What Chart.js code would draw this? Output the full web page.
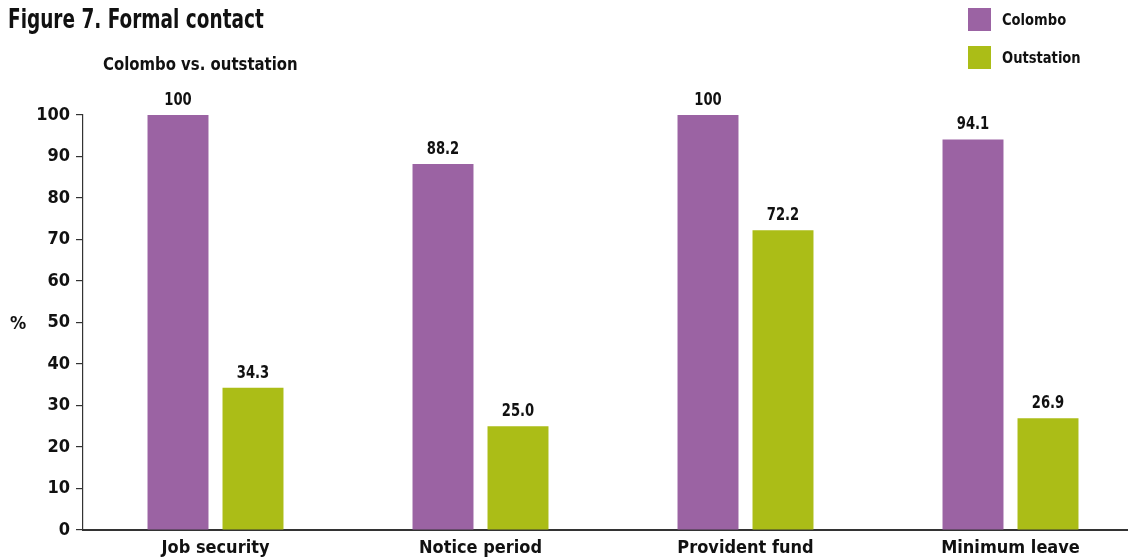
<!DOCTYPE html>
<html lang="en">

<head>
  <meta charset="UTF-8">
  <title>Figure 7. Formal contact</title>
  <script src="https://cdn.jsdelivr.net/npm/chart.js"></script>
  <style>
    html, body { margin: 0; padding: 0; overflow: hidden; background: #fff; }
    #wrap { width: 1143px; height: 560px; position: relative; }
  </style>
</head>

<body>
  <div id="wrap"><canvas id="formalChart"></canvas></div>
  <script>
    // data
    const categories = ['Job security', 'Notice period', 'Provident fund', 'Minimum leave'];
    const colombo = [100, 88.2, 100, 94.1];
    const outstation = [34.3, 25.0, 72.2, 26.9];
    const valueLabels = [
      ['100', '88.2', '100', '94.1'],
      ['34.3', '25.0', '72.2', '26.9']
    ];
    const yTicks = [0, 10, 20, 30, 40, 50, 60, 70, 80, 90, 100];

    const FONT = '"DejaVu Sans Condensed", "Liberation Sans Narrow", Arial, sans-serif';
    const INK = '#111';

    // the original uses a narrow face, so squeeze the hand drawn text a bit
    function narrowText(ctx, text, x, y, sx) {
      ctx.save();
      ctx.translate(x, y);
      ctx.scale(sx, 1);
      ctx.fillText(text, 0, 0);
      ctx.restore();
    }

    // titles, legend, % label and the numbers over the bars
    const decorations = {
      id: 'decorations',
      afterDatasetsDraw(chart) {
        const ctx = chart.ctx;
        ctx.save();
        ctx.fillStyle = INK;
        ctx.textBaseline = 'middle';
        ctx.textAlign = 'left';

        ctx.font = 'bold 26px ' + FONT;
        narrowText(ctx, 'Figure 7. Formal contact', 8, 21, 0.79);

        ctx.font = 'bold 18px ' + FONT;
        narrowText(ctx, 'Colombo vs. outstation', 103, 65, 0.92);

        // legend
        ctx.font = 'bold 16px ' + FONT;
        chart.data.datasets.forEach((ds, i) => {
          const y = 8 + i * 38;
          ctx.fillStyle = ds.backgroundColor;
          ctx.fillRect(968, y, 23, 23);
          ctx.fillStyle = INK;
          narrowText(ctx, ds.label, 1002, y + 13, 0.91);
        });

        // y axis label
        const yScale = chart.scales.y;
        ctx.font = 'bold 18px ' + FONT;
        ctx.fillText('%', 10, yScale.getPixelForValue(50) + 2);

        // value labels
        ctx.font = 'bold 17px ' + FONT;
        ctx.textAlign = 'center';
        ctx.textBaseline = 'bottom';
        chart.data.datasets.forEach((ds, i) => {
          chart.getDatasetMeta(i).data.forEach((bar, j) => {
            narrowText(ctx, valueLabels[i][j], bar.x, bar.y - 6, 0.86);
          });
        });
        ctx.restore();
      }
    };

    const ctx = document.getElementById('formalChart').getContext('2d');

    new Chart(ctx, {
      type: 'bar',
      data: {
        labels: categories,
        datasets: [{
          label: 'Colombo',
          data: colombo,
          backgroundColor: '#9b63a3'
        }, {
          label: 'Outstation',
          data: outstation,
          backgroundColor: '#abbd17'
        }]
      },
      options: {
        responsive: true,
        maintainAspectRatio: false,
        animation: false,
        datasets: {
          bar: { categoryPercentage: 0.566, barPercentage: 0.813 }
        },
        layout: { padding: { top: 115, left: 0, right: 0, bottom: 0 } },
        plugins: {
          legend: { display: false },
          tooltip: { enabled: false }
        },
        scales: {
          x: {
            grid: { display: false },
            border: { display: true, color: '#333', width: 2 },
            ticks: {
              color: INK,
              padding: 0,
              font: { family: FONT, size: 18, weight: 'bold' }
            },
            afterFit: s => { s.height = 30; }
          },
          y: {
            min: 0,
            max: 100,
            afterBuildTicks: s => { s.ticks = yTicks.map(v => ({ value: v })); },
            afterFit: s => { s.width = 83; },
            grid: {
              drawOnChartArea: false,
              drawTicks: true,
              tickLength: 7,
              color: '#333',
              lineWidth: 1.2
            },
            border: { display: true, color: '#333', width: 1.2 },
            ticks: {
              color: INK,
              padding: 6,
              font: { family: FONT, size: 18, weight: 'bold' }
            }
          }
        }
      },
      plugins: [decorations]
    });
  </script>
</body>

</html>
